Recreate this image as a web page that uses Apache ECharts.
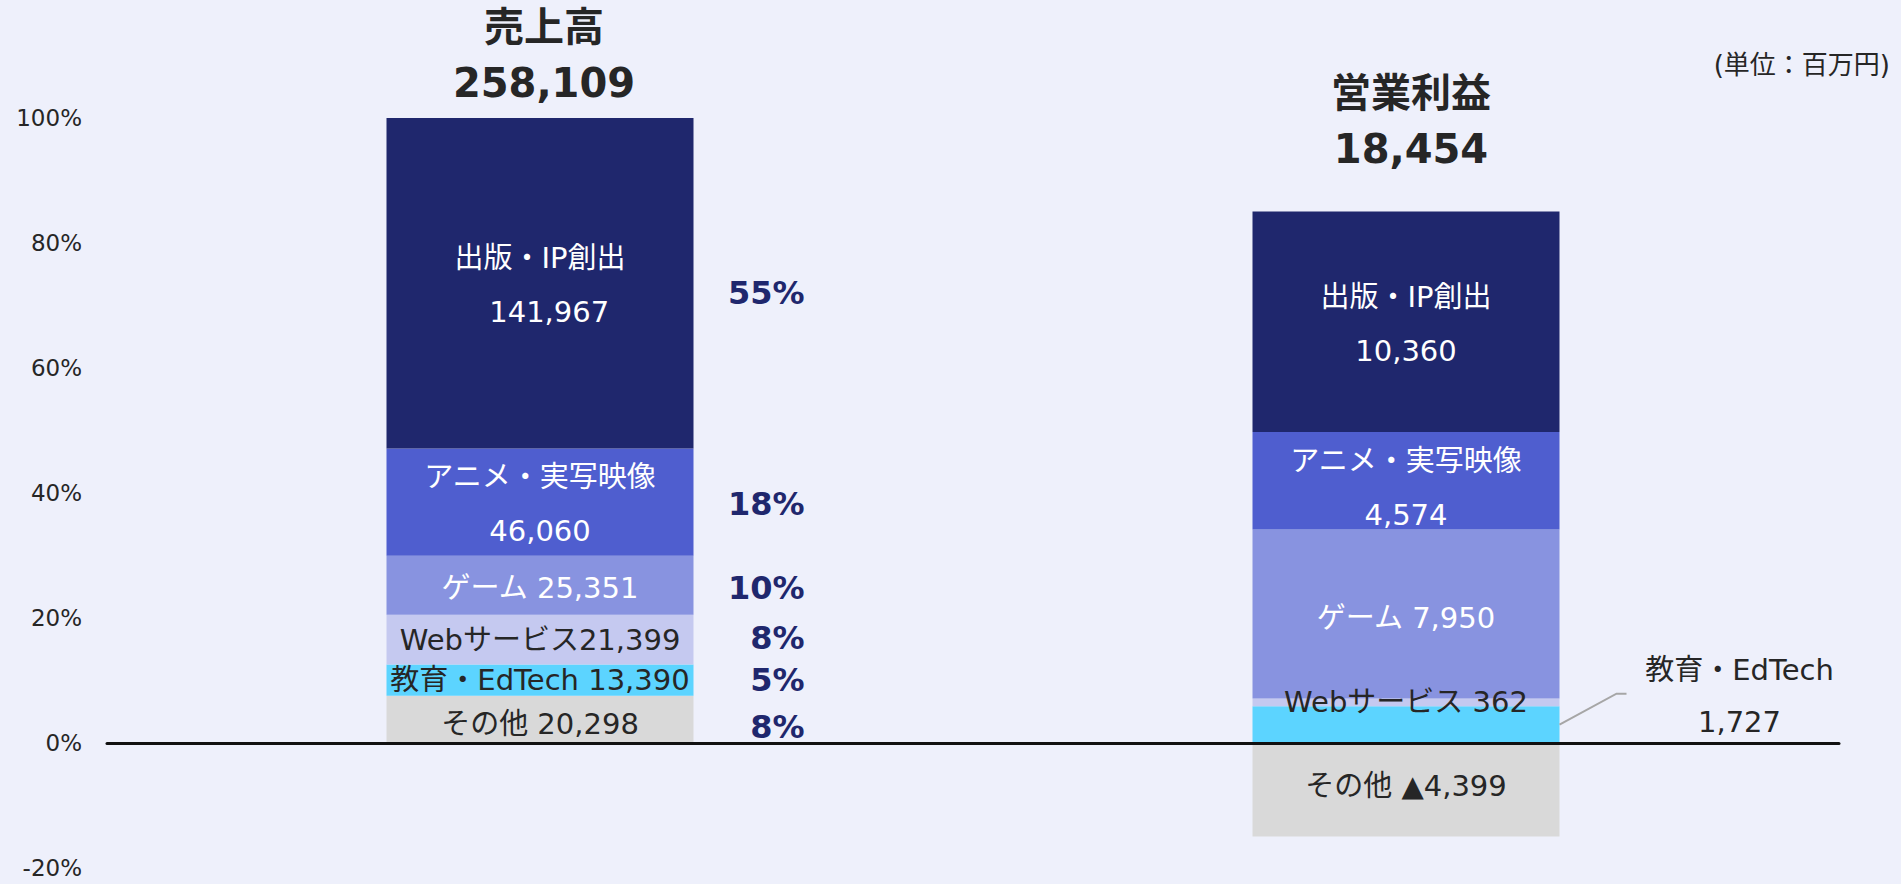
<!DOCTYPE html>
<html>
<head>
<meta charset="utf-8">
<title>売上高・営業利益 セグメント構成</title>
<script src="https://cdn.jsdelivr.net/npm/echarts@6/dist/echarts.min.js"></script>
<style>
  html, body { margin: 0; padding: 0; background: #eef0fb; }
  #chart { width: 1901px; height: 884px; }
</style>
</head>
<body>
<div id="chart"></div>
<script>
// データ（単位：百万円）
const categories = ['売上高', '営業利益'];
const totalLabels = ['258,109', '18,454'];
const segmentNames = ['その他', '教育・EdTech', 'Webサービス', 'ゲーム', 'アニメ・実写映像', '出版・IP創出'];
// 各セグメント [売上高, 営業利益]
const otherValues = [20298, -4399];
const eduValues = [13390, 1727];
const webValues = [21399, 362];
const gameValues = [25351, 7950];
const animeValues = [46060, 4574];
const publishValues = [141967, 10360];
// 売上高の構成比（右側の%）
const salesShares = [8, 5, 8, 10, 18, 55];
// 縦軸目盛り
const yTicks = [-20, 0, 20, 40, 60, 80, 100];

const segmentValues = [otherValues, eduValues, webValues, gameValues, animeValues, publishValues];
const colors = ['#d9d9d9', '#5cd4ff', '#c5c9f0', '#8893e0', '#4f5ecf', '#1f276d'];
const textColors = ['#262626', '#262626', '#262626', '#ffffff', '#ffffff', '#ffffff'];
// ラベルの区切り [売上高, 営業利益]
const joins = [[' ', ' '], [' ', '\n'], ['', ' '], [' ', ' '], ['\n', '\n'], ['\n  ', '\n']];
// ラベルの縦ずれ(px) [売上高, 営業利益]
const labelShift = [[5, -4], [0, 0], [0, 0], [3, 4], [2, 7], [2, 2]];
const shareShift = [8, 0, -2, 3, 2, 10];
const fontFamily = "'DejaVu Sans', 'Noto Sans CJK JP', sans-serif";
const barWidth = 307;

// 棒ごとに絶対値の合計を100%とする
const base = categories.map((c, j) => segmentValues.reduce((s, arr) => s + Math.abs(arr[j]), 0));
const pct = (v, j) => v / base[j] * 100;
const fmt = v => (v < 0 ? '▲' : '') + Math.abs(v).toLocaleString('en-US');

let series = segmentValues.map((vals, i) => ({
    name: segmentNames[i],
    type: 'bar',
    stack: 'total',
    barWidth: barWidth,
    itemStyle: { color: colors[i] },
    label: {
        show: true,
        position: 'inside',
        color: textColors[i],
        fontSize: 29,
        lineHeight: 54,
        fontFamily: fontFamily,
        formatter: p => segmentNames[i] + joins[i][p.dataIndex] + fmt(vals[p.dataIndex])
    },
    data: vals.map((v, j) => ({ value: pct(v, j), label: { offset: [0, labelShift[i][j]] } }))
}));

// 営業利益の教育・EdTechは棒の外にラベル
series[1].data[1] = {
    value: pct(eduValues[1], 1),
    label: { position: [487, -10], align: 'center', verticalAlign: 'middle', lineHeight: 52 }
};

// 引き出し線（営業利益の教育・EdTech）
series.push({
    type: 'custom',
    z: 3,
    silent: true,
    renderItem: (params, api) => {
        const p = api.coord([api.value(0), api.value(1)]);
        const x0 = p[0] + barWidth / 2;
        return {
            type: 'polyline',
            shape: { points: [[x0, p[1]], [x0 + 57, p[1] - 31], [x0 + 67, p[1] - 31]] },
            style: { stroke: '#a6a6a6', lineWidth: 2, fill: null }
        };
    },
    data: [[1, pct(eduValues[1], 1) / 2]]
});

// 構成比ラベル（売上高の各セグメント中央）
let cum = 0;
const shareData = salesShares.map((s, i) => {
    const h = pct(segmentValues[i][0], 0);
    const mid = cum + h / 2;
    cum += h;
    return { value: [0, mid], label: { offset: [0, shareShift[i]] } };
});
series.push({
    type: 'scatter',
    symbolSize: 1,
    silent: true,
    itemStyle: { color: '#1f276d', opacity: 0 },
    label: {
        show: true,
        position: 'right',
        align: 'right',
        distance: 264,
        opacity: 1,
        color: '#1f276d',
        textBorderWidth: 0,
        fontSize: 32,
        fontWeight: 'bold',
        fontFamily: fontFamily,
        formatter: p => salesShares[p.dataIndex] + '%'
    },
    data: shareData
});

let chart = echarts.init(document.getElementById('chart'), null, { renderer: 'svg' });

let option = {
    backgroundColor: '#eef0fb',
    animation: false,
    grid: { left: 107, right: 62, top: 118, bottom: 16 },
    xAxis: {
        type: 'category',
        data: categories,
        z: 10,
        axisLine: { show: true, onZero: true, lineStyle: { color: '#111111', width: 3 } },
        axisTick: { show: false },
        axisLabel: { show: false },
        splitLine: { show: false }
    },
    yAxis: {
        type: 'value',
        min: yTicks[0],
        max: yTicks[yTicks.length - 1],
        interval: yTicks[1] - yTicks[0],
        axisLabel: { formatter: '{value}%', fontSize: 23, color: '#262626', margin: 25, fontFamily: fontFamily },
        axisLine: { show: false },
        axisTick: { show: false },
        splitLine: { show: false }
    },
    graphic: [
        {
            type: 'text', x: 544, y: 55,
            style: {
                text: categories[0] + '\n' + totalLabels[0],
                align: 'center', verticalAlign: 'middle',
                fontSize: 40, fontWeight: 'bold', lineHeight: 56,
                fontFamily: fontFamily, fill: '#262626'
            }
        },
        {
            type: 'text', x: 1411, y: 121,
            style: {
                text: categories[1] + '\n' + totalLabels[1],
                align: 'center', verticalAlign: 'middle',
                fontSize: 40, fontWeight: 'bold', lineHeight: 56,
                fontFamily: fontFamily, fill: '#262626'
            }
        },
        {
            type: 'text', x: 1890, y: 65,
            style: {
                text: '(単位：百万円)',
                align: 'right', verticalAlign: 'middle',
                fontSize: 26, fontFamily: fontFamily, fill: '#262626'
            }
        }
    ],
    series: series
};

chart.setOption(option);
</script>
</body>
</html>
